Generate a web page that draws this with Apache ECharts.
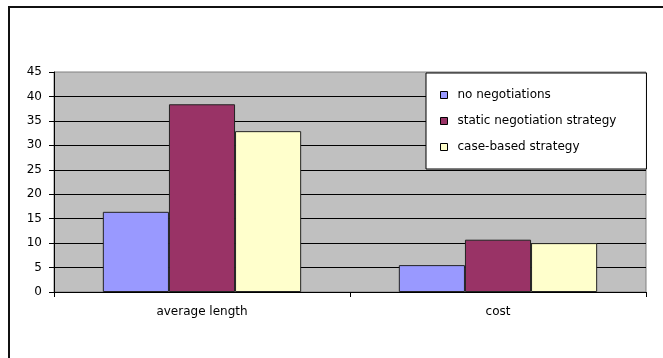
<!DOCTYPE html>
<html>
<head>
<meta charset="utf-8">
<script src="https://cdn.jsdelivr.net/npm/echarts@6/dist/echarts.min.js"></script>
<style>
  html, body { margin: 0; padding: 0; background: #fff; }
  #chart { width: 663px; height: 358px; }
</style>
</head>
<body>
<div id="chart"></div>
<script>
// Groups along the x axis
const categories = ['average length', 'cost'];

// One value per group for each strategy
const noNegotiations = [16.4, 5.5];
const staticNegotiation = [38.4, 10.7];
const caseBased = [32.9, 10.0];

const seriesNames = ['no negotiations', 'static negotiation strategy', 'case-based strategy'];

// Value axis range
const yMin = 0;
const yMax = 45;
const yStep = 5;

const FONT = 'DejaVu Sans';

const chart = echarts.init(document.getElementById('chart'), null, { renderer: 'canvas' });

function barSeries(name, data, color) {
  return {
    name: name,
    type: 'bar',
    data: data,
    barGap: '0%',
    barCategoryGap: '33%',
    itemStyle: { color: color, borderColor: '#222', borderWidth: 1 }
  };
}

chart.setOption({
  animation: false,
  backgroundColor: '#fff',
  textStyle: { fontFamily: FONT },
  graphic: [{
    // outer chart frame (open to the right and bottom)
    type: 'rect',
    shape: { x: 9, y: 7, width: 800, height: 500 },
    style: { fill: 'none', stroke: '#111', lineWidth: 2 },
    silent: true,
    z: 0
  }],
  grid: {
    left: 54, right: 17, top: 72, bottom: 66,
    show: true,
    backgroundColor: '#c0c0c0',
    borderColor: '#808080',
    borderWidth: 1
  },
  legend: {
    orient: 'vertical',
    left: 426,
    top: 73,
    padding: [16, 30, 16, 14],
    itemGap: 14,
    itemWidth: 7,
    itemHeight: 7,
    icon: 'rect',
    backgroundColor: '#fff',
    borderColor: '#000',
    borderWidth: 1,
    itemStyle: { borderColor: '#000', borderWidth: 1 },
    textStyle: { fontFamily: FONT, fontSize: 12, color: '#000', padding: [0, 0, 0, 5] },
    data: seriesNames
  },
  xAxis: {
    type: 'category',
    data: categories,
    boundaryGap: true,
    axisLine: { lineStyle: { color: '#000', width: 1 } },
    axisTick: { show: true, length: 5, lineStyle: { color: '#000' } },
    axisLabel: { color: '#000', fontFamily: FONT, fontSize: 12, margin: 14 }
  },
  yAxis: {
    type: 'value',
    min: yMin,
    max: yMax,
    interval: yStep,
    axisLine: { show: true, lineStyle: { color: '#000', width: 1 } },
    axisTick: { show: true, length: 5, lineStyle: { color: '#000' } },
    axisLabel: { color: '#000', fontFamily: FONT, fontSize: 12, margin: 12 },
    splitLine: { show: true, showMaxLine: false, lineStyle: { color: '#000', width: 1 } }
  },
  series: [
    barSeries(seriesNames[0], noNegotiations, '#9999ff'),
    barSeries(seriesNames[1], staticNegotiation, '#993366'),
    barSeries(seriesNames[2], caseBased, '#ffffcc')
  ]
});
</script>
</body>
</html>
